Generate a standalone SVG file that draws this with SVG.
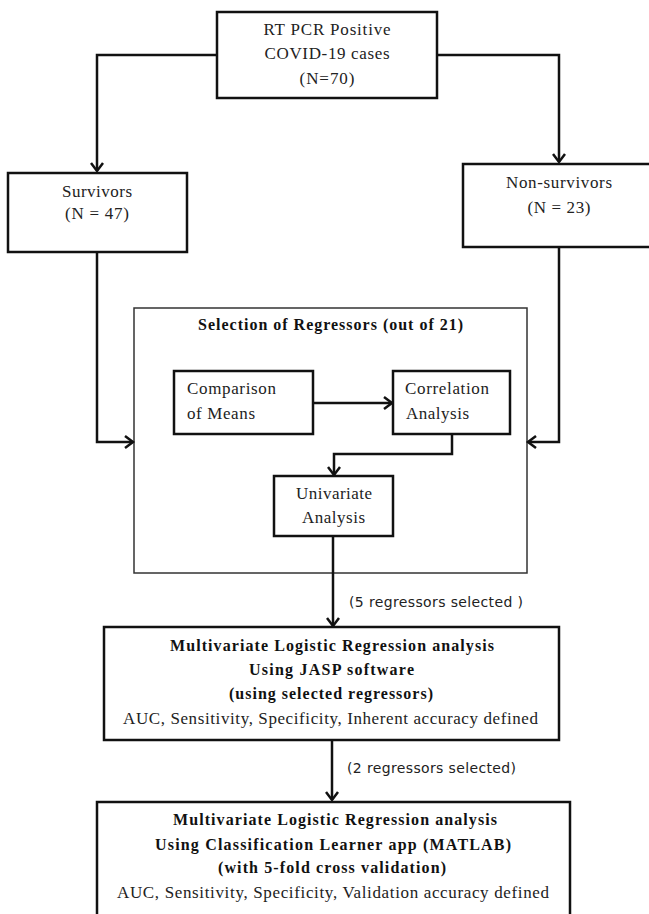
<svg xmlns="http://www.w3.org/2000/svg" width="649" height="914" viewBox="0 0 649 914">
<style>
.box{fill:#fff;stroke:#111;stroke-width:2.5}
.outer{fill:#fff;stroke:#333;stroke-width:1.5}
.t{font-family:"Liberation Serif","Times New Roman",serif;font-size:17px;fill:#222;text-anchor:middle}
.tl{font-family:"Liberation Serif","Times New Roman",serif;font-size:17px;fill:#222}
.b{font-family:"Liberation Serif","Times New Roman",serif;font-size:16px;font-weight:bold;fill:#111;text-anchor:middle}
.s{font-family:"DejaVu Sans",Verdana,sans-serif;font-size:14px;fill:#222}
.c{fill:none;stroke:#111;stroke-width:2.5}
</style>
<defs>
<marker id="ah" markerUnits="userSpaceOnUse" markerWidth="16" markerHeight="16" viewBox="-10 -8 12 16" refX="0" refY="0" orient="auto">
<path d="M-8,-6 L0,0 L-8,6" fill="none" stroke="#111" stroke-width="2.5"/>
</marker>
</defs>
<rect width="649" height="914" fill="#fff"/>
<g id="selection">
<rect class="outer" x="134" y="308" width="393" height="265"/>
<text class="b" x="330.5" y="330" textLength="265" lengthAdjust="spacing">Selection of Regressors (out of 21)</text>
</g>
<g id="connectors">
<polyline class="c" points="217,55 97,55 97,171" marker-end="url(#ah)"/>
<polyline class="c" points="437,55 559,55 559,162" marker-end="url(#ah)"/>
<polyline class="c" points="97,252 97,442 133,442" marker-end="url(#ah)"/>
<polyline class="c" points="559,247 559,442 528,442" marker-end="url(#ah)"/>
<polyline class="c" points="313,403 392,403" marker-end="url(#ah)"/>
<polyline class="c" points="452,434 452,454 334,454 334,475" marker-end="url(#ah)"/>
<polyline class="c" points="333,536 333,626" marker-end="url(#ah)"/>
<polyline class="c" points="332,740 332,800" marker-end="url(#ah)"/>
<text class="s" x="349" y="607" textLength="174" lengthAdjust="spacing">(5 regressors selected )</text>
<text class="s" x="347" y="773" textLength="169" lengthAdjust="spacing">(2 regressors selected)</text>
</g>
<g id="rtpcr">
<rect class="box" x="217" y="12" width="220" height="86"/>
<text class="t" x="327" y="35" textLength="127" lengthAdjust="spacing">RT PCR Positive</text>
<text class="t" x="327" y="59" textLength="125" lengthAdjust="spacing">COVID-19 cases</text>
<text class="t" x="327" y="84" textLength="55" lengthAdjust="spacing">(N=70)</text>
</g>
<g id="survivors">
<rect class="box" x="8" y="173" width="179" height="79"/>
<text class="t" x="97" y="197" textLength="70" lengthAdjust="spacing">Survivors</text>
<text class="t" x="97" y="219" textLength="64" lengthAdjust="spacing">(N = 47)</text>
</g>
<g id="nonsurvivors">
<rect class="box" x="463" y="164" width="195" height="83"/>
<text class="t" x="559" y="188" textLength="106" lengthAdjust="spacing">Non-survivors</text>
<text class="t" x="559" y="213" textLength="63" lengthAdjust="spacing">(N = 23)</text>
</g>
<g id="comparison">
<rect class="box" x="174" y="371" width="139" height="63"/>
<text class="tl" x="187" y="394" textLength="89" lengthAdjust="spacing">Comparison</text>
<text class="tl" x="187" y="419" textLength="68" lengthAdjust="spacing">of Means</text>
</g>
<g id="correlation">
<rect class="box" x="393" y="371" width="117" height="63"/>
<text class="tl" x="405" y="394" textLength="84" lengthAdjust="spacing">Correlation</text>
<text class="tl" x="406" y="419" textLength="63" lengthAdjust="spacing">Analysis</text>
</g>
<g id="univariate">
<rect class="box" x="274" y="476" width="119" height="60"/>
<text class="t" x="334" y="499" textLength="76" lengthAdjust="spacing">Univariate</text>
<text class="t" x="333.5" y="523" textLength="63" lengthAdjust="spacing">Analysis</text>
</g>
<g id="mlr-jasp">
<rect class="box" x="104" y="627" width="455" height="113"/>
<text class="b" x="332" y="651" textLength="324" lengthAdjust="spacing">Multivariate Logistic Regression analysis</text>
<text class="b" x="331.5" y="675" textLength="165" lengthAdjust="spacing">Using JASP software</text>
<text class="b" x="331" y="699" textLength="204" lengthAdjust="spacing">(using selected regressors)</text>
<text class="t" x="330.5" y="724" textLength="415" lengthAdjust="spacing">AUC, Sensitivity, Specificity, Inherent accuracy defined</text>
</g>
<g id="mlr-matlab">
<rect class="box" x="97" y="802" width="473" height="130"/>
<text class="b" x="335" y="825" textLength="324" lengthAdjust="spacing">Multivariate Logistic Regression analysis</text>
<text class="b" x="333" y="850" textLength="356" lengthAdjust="spacing">Using Classification Learner app (MATLAB)</text>
<text class="b" x="332" y="873" textLength="228" lengthAdjust="spacing">(with 5-fold cross validation)</text>
<text class="t" x="333" y="898" textLength="432" lengthAdjust="spacing">AUC, Sensitivity, Specificity, Validation accuracy defined</text>
</g>
</svg>
